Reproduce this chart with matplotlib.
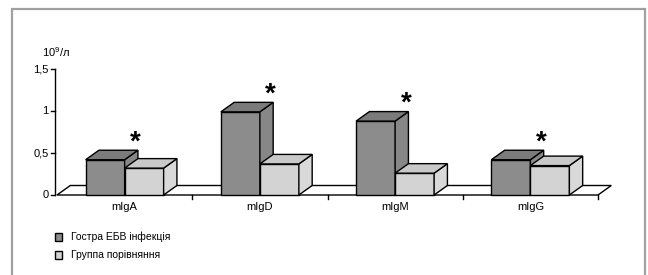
import matplotlib
matplotlib.use("Agg")
import matplotlib.pyplot as plt
from matplotlib.patches import Polygon, Rectangle

plt.rcParams['font.family'] = ['Liberation Sans', 'DejaVu Sans']
plt.rcParams['mathtext.default'] = 'regular'

categories = ['mIgA', 'mIgD', 'mIgM', 'mIgG']
acute_ebv = [0.42, 0.99, 0.88, 0.42]
comparison = [0.32, 0.37, 0.26, 0.35]
significant = [True, True, True, True]
series_names = ['Гостра ЕБВ інфекція', 'Группа порівняння']
yticks = [0, 0.5, 1, 1.5]
ytick_labels = ['0', '0,5', '1', '1,5']
unit_label = '10$^9$/л'

W, H = 648, 275
fig = plt.figure(figsize=(W / 100, H / 100), dpi=100)
ax = fig.add_axes([0, 0, 1, 1])

# pixel geometry -> data limits
px_per_cat = 135.25
x_left_px = 57.0
px_per_unit = 84.0
y0_px = 195.0
xmin = -0.5 - x_left_px / px_per_cat
xmax = xmin + W / px_per_cat
ymin = -(H - y0_px) / px_per_unit
ymax = y0_px / px_per_unit
ax.set_xlim(xmin, xmax)
ax.set_ylim(ymin, ymax)
ax.axis('off')

ddx = 13.3 / px_per_cat   # depth offset in x
ddy = 9.5 / px_per_unit   # depth offset in y
bw = 39.0 / px_per_cat

dark = dict(front='#8c8c8c', top='#7b7b7b', side='#878787')
light = dict(front='#d3d3d3', top='#c9c9c9', side='#d9d9d9')
lw = 1.0

n = len(categories)
# floor
fx0, fx1 = -0.5, n - 0.5
ax.add_patch(Polygon([(fx0, 0), (fx1, 0), (fx1 + ddx, ddy), (fx0 + ddx, ddy)],
                     closed=True, facecolor='white', edgecolor='black', lw=lw, zorder=1))
# category ticks
for b in range(1, n + 1):
    xb = b - 0.5
    ax.plot([xb, xb], [0, -3.5 / px_per_unit], color='black', lw=lw, zorder=1)


def box(x0, val, c, z):
    x1 = x0 + bw
    ax.add_patch(Polygon([(x0, 0), (x1, 0), (x1, val), (x0, val)], closed=True,
                         facecolor=c['front'], edgecolor='black', lw=lw, zorder=z))
    ax.add_patch(Polygon([(x1, 0), (x1 + ddx, ddy), (x1 + ddx, val + ddy), (x1, val)], closed=True,
                         facecolor=c['side'], edgecolor='black', lw=lw, zorder=z))
    ax.add_patch(Polygon([(x0, val), (x1, val), (x1 + ddx, val + ddy), (x0 + ddx, val + ddy)], closed=True,
                         facecolor=c['top'], edgecolor='black', lw=lw, zorder=z))


for i in range(n):
    box(i - bw, acute_ebv[i], dark, 2 + i * 2)
    box(i, comparison[i], light, 3 + i * 2)
    ax.text(i, -12.5 / px_per_unit, categories[i], ha='center', va='center', fontsize=8, zorder=10)
    if significant[i]:
        ytop = max(acute_ebv[i], comparison[i]) + ddy + 12.0 / px_per_unit
        ax.text(i + 0.08, ytop - 11.0 / px_per_unit, '*', ha='center', va='baseline',
                fontsize=20, fontweight='bold', zorder=20)

# value axis
axx = -0.5 - 1.5 / px_per_cat
ax.plot([axx, axx], [0, 1.5], color='black', lw=lw, zorder=5)
for t, lab in zip(yticks, ytick_labels):
    ax.plot([axx - 4 / px_per_cat, axx], [t, t], color='black', lw=lw, zorder=5)
    ax.text(axx - 7 / px_per_cat, t, lab, ha='right', va='center', fontsize=8)
ax.text(axx - 13 / px_per_cat, 1.5 + 17 / px_per_unit, unit_label, ha='left', va='center', fontsize=8)

# legend
for k, (name, c) in enumerate(zip(series_names, [dark, light])):
    ycen = 237 + 18 * k
    fig.patches.append(Rectangle((55 / W, 1 - (ycen + 4) / H), 7 / W, 8 / H,
                                 transform=fig.transFigure, facecolor=c['front'],
                                 edgecolor='black', lw=1.0))
    fig.text(71 / W, 1 - ycen / H, name, ha='left', va='center', fontsize=7.5)

# outer frame
fig.patches.append(Rectangle((12 / W, -0.05), (645 - 12) / W, 1.05 - 9.5 / H,
                             transform=fig.transFigure, facecolor='none',
                             edgecolor='#a0a0a0', lw=1.6))

fig.savefig('out.png', dpi=100)
